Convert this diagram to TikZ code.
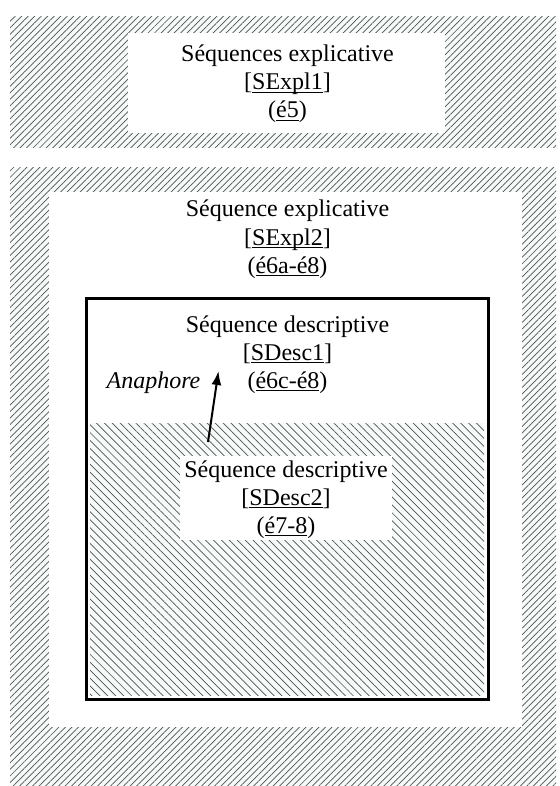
\documentclass[tikz,border=0pt]{standalone}
\usepackage{fontspec}
\setmainfont{Liberation Serif}
\usetikzlibrary{patterns.meta,arrows.meta}

\definecolor{hatchbg}{RGB}{246,251,250}
\definecolor{hatchline}{RGB}{80,80,80}

% underline at a fixed depth, crossing descenders
\newsavebox\ulbox
\newcommand\ulword[1]{\sbox\ulbox{#1}\rlap{\rule[-3.2pt]{\wd\ulbox}{1.1pt}}\usebox\ulbox}

\tikzset{
  x=1pt, y=-1pt,
  hatchNE/.style={preaction={fill=hatchbg},
    pattern={Lines[angle=45,distance=4.6pt,line width=0.7pt]}, pattern color=hatchline},
  hatchNW/.style={preaction={fill=hatchbg},
    pattern={Lines[angle=-45,distance=5.6pt,line width=0.7pt]}, pattern color=hatchline},
  blank/.style={fill=white},
  txt/.style={anchor=base, inner sep=0pt, font=\fontsize{24}{28}\selectfont},
  frame/.style={draw=black, line width=3pt},
  link/.style={line width=2pt, -{Latex[length=14pt,width=10pt]}}
}

\begin{document}
\begin{tikzpicture}
\useasboundingbox (0,0) rectangle (559,786);
\fill[white] (0,0) rectangle (559,786);

% upper band
\fill[hatchNE] (10,17) rectangle (556,148);
\fill[blank] (128,33) rectangle (445,133);

% lower band
\fill[hatchNE] (10,168) rectangle (556,786);
\fill[blank] (49,192) rectangle (522,727);

% descriptive frame and its hatched lower part
\fill[hatchNW] (90,423) rectangle (484,695);
\fill[blank] (180,456) rectangle (392,540);
\draw[frame] (86,298) rectangle (488,699);

% texts
\node[txt] (e1a) at (287.5,62) {Séquences explicative};
\node[txt] (e1b) at (287.5,90) {[\ulword{SExpl1}]};
\node[txt] (e1c) at (287.5,118) {(\ulword{é5})};

\node[txt] (e2a) at (287.5,217) {Séquence explicative};
\node[txt] (e2b) at (287.5,245) {[\ulword{SExpl2}]};
\node[txt] (e2c) at (287.5,273) {(\ulword{é6a-é8})};

\node[txt] (d1a) at (287.5,332) {Séquence descriptive};
\node[txt] (d1b) at (287.5,360) {[\ulword{SDesc1}]};
\node[txt] (d1c) at (287.5,388) {(\ulword{é6c-é8})};

\node[txt] (d2a) at (286,477) {Séquence descriptive};
\node[txt] (d2b) at (286,505) {[\ulword{SDesc2}]};
\node[txt] (d2c) at (286,533) {(\ulword{é7-8})};

\node[txt] (ana) at (153.5,388) {\itshape Anaphore};

% anaphoric link
\coordinate (arrtail) at (208,442);
\coordinate (arrhead) at (218.5,371);
\draw[link] (arrtail) -- (arrhead);
\end{tikzpicture}
\end{document}
